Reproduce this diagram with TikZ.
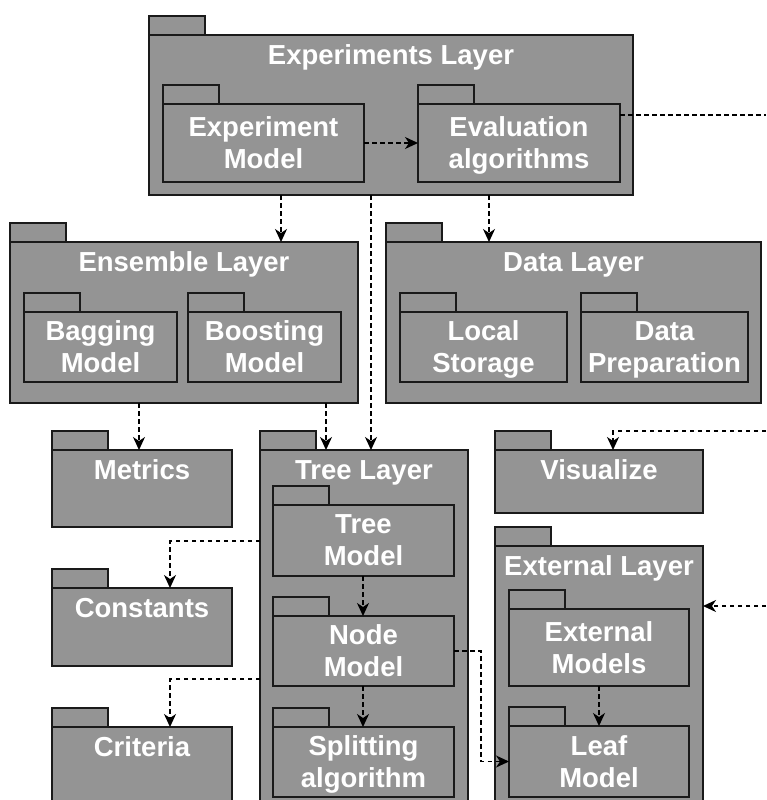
\documentclass[tikz,border=0pt]{standalone}
\usepackage{fontspec}
\setmainfont{Liberation Sans}
\usetikzlibrary{arrows.meta}
\definecolor{pkgfill}{HTML}{949494}
\definecolor{pkgline}{HTML}{1A1A1A}
\tikzset{
  pkgbody/.style={draw=pkgline, fill=pkgfill, line width=1.33pt, inner sep=0pt, outer sep=0pt, anchor=north west},
  pkgtab/.style={draw=pkgline, fill=pkgfill, line width=1.33pt, inner sep=0pt, outer sep=0pt, anchor=south west, minimum width=56pt, minimum height=19pt},
  lbl/.style={text=white, font=\fontsize{27.5}{32}\selectfont\bfseries, align=center, inner sep=0pt},
  title/.style={lbl, anchor=base},
  twoline/.style={lbl, anchor=center, text depth=0pt},
  dep/.style={draw=black, line width=1.3pt, dash pattern=on 4.5pt off 3.5pt, -{Stealth[length=13pt,width=12pt,inset=4pt]}},
  depplain/.style={draw=black, line width=1.3pt, dash pattern=on 4.5pt off 3.5pt}
}
\newcommand\pkgbox[5]{%
  \node[pkgbody, minimum width=#4pt, minimum height=#5pt] (#1) at (#2,#3) {};
  \node[pkgtab] (#1tab) at (#1.north west) {};
}
\begin{document}
\begin{tikzpicture}[x=1pt,y=-1pt]
\useasboundingbox (0,0) rectangle (766,800);
\clip (0,0) rectangle (766,800);
% helper coordinates
\coordinate (xa) at (281,0);
\coordinate (xb) at (371,0);
\coordinate (xc) at (489,0);
\coordinate (xd) at (139,0);
\coordinate (xe) at (326,0);
\coordinate (xf) at (170,0);
\coordinate (xg) at (363,0);
\coordinate (xh) at (481,0);
\coordinate (xi) at (613,0);
\coordinate (ya) at (0,541);
\coordinate (yb) at (0,679);
\coordinate (outA) at (766,115);
\coordinate (outB) at (766,431);
\coordinate (outC) at (766,606);

% Experiments layer
\pkgbox{exp}{149}{35}{484}{160}
\node[title] (expT) at (391,64.5) {Experiments Layer};
\pkgbox{expmodel}{163}{104}{201}{78}
\node[twoline] (expmodelT) at (expmodel.center) {Experiment\\Model};
\pkgbox{evalalg}{418}{104}{202}{78}
\node[twoline] (evalalgT) at (evalalg.center) {Evaluation\\algorithms};

% Ensemble layer
\pkgbox{ens}{10}{242}{348}{161}
\node[title] (ensT) at (184,271.5) {Ensemble Layer};
\pkgbox{bagging}{24}{312}{153}{70}
\node[twoline] (baggingT) at (bagging.center) {Bagging\\Model};
\pkgbox{boosting}{188}{312}{153}{70}
\node[twoline] (boostingT) at (boosting.center) {Boosting\\Model};

% Data layer
\pkgbox{data}{386}{242}{375}{161}
\node[title] (dataT) at (573.5,271.5) {Data Layer};
\pkgbox{local}{400}{312}{167}{70}
\node[twoline] (localT) at (local.center) {Local\\Storage};
\pkgbox{dataprep}{581}{312}{167}{70}
\node[twoline] (dataprepT) at (dataprep.center) {Data\\Preparation};

% Left column
\pkgbox{metrics}{52}{450}{180}{77}
\node[title] (metricsT) at (142,479.5) {Metrics};
\pkgbox{constants}{52}{588}{180}{78}
\node[title] (constantsT) at (142,617.5) {Constants};
\pkgbox{criteria}{52}{727}{180}{110}
\node[title] (criteriaT) at (142,756.5) {Criteria};

% Tree layer
\pkgbox{tree}{260}{450}{208}{400}
\node[title] (treeT) at (364,479.5) {Tree Layer};
\pkgbox{treemodel}{273}{505}{181}{71}
\node[twoline] (treemodelT) at (treemodel.center) {Tree\\Model};
\pkgbox{nodemodel}{273}{616}{181}{70}
\node[twoline] (nodemodelT) at (nodemodel.center) {Node\\Model};
\pkgbox{splitting}{273}{727}{181}{70}
\node[twoline] (splittingT) at (splitting.center) {Splitting\\algorithm};

% Right column
\pkgbox{visualize}{495}{450}{208}{63}
\node[title] (visualizeT) at (599,479.5) {Visualize};
\pkgbox{extlayer}{495}{546}{208}{300}
\node[title] (extlayerT) at (599,575.5) {External Layer};
\pkgbox{extmodels}{509}{609}{180}{77}
\node[twoline] (extmodelsT) at (extmodels.center) {External\\Models};
\pkgbox{leaf}{509}{726}{180}{71}
\node[twoline] (leafT) at (leaf.center) {Leaf\\Model};

% connectors
\draw[dep] (expmodel.east) -- (evalalg.west);
\draw[depplain] (evalalg.east |- outA) -- (outA);
\draw[dep] (exp.south -| xa) -- (ens.north -| xa);
\draw[dep] (exp.south -| xb) -- (tree.north -| xb);
\draw[dep] (exp.south -| xc) -- (data.north -| xc);
\draw[dep] (ens.south -| xd) -- (metrics.north -| xd);
\draw[dep] (ens.south -| xe) -- (tree.north -| xe);
\draw[dep] (tree.west |- ya) -| (constants.north -| xf);
\draw[dep] (tree.west |- yb) -| (criteria.north -| xf);
\draw[dep] (treemodel.south -| xg) -- (nodemodel.north -| xg);
\draw[dep] (nodemodel.south -| xg) -- (splitting.north -| xg);
\draw[dep] (nodemodel.east) -| (xh |- leaf.west) -- (leaf.west);
\draw[dep] (extmodels.south) -- (leaf.north);
\draw[dep] (outB) -| (visualize.north -| xi);
\draw[dep] (outC) -- (extlayer.east |- outC);
\end{tikzpicture}
\end{document}
